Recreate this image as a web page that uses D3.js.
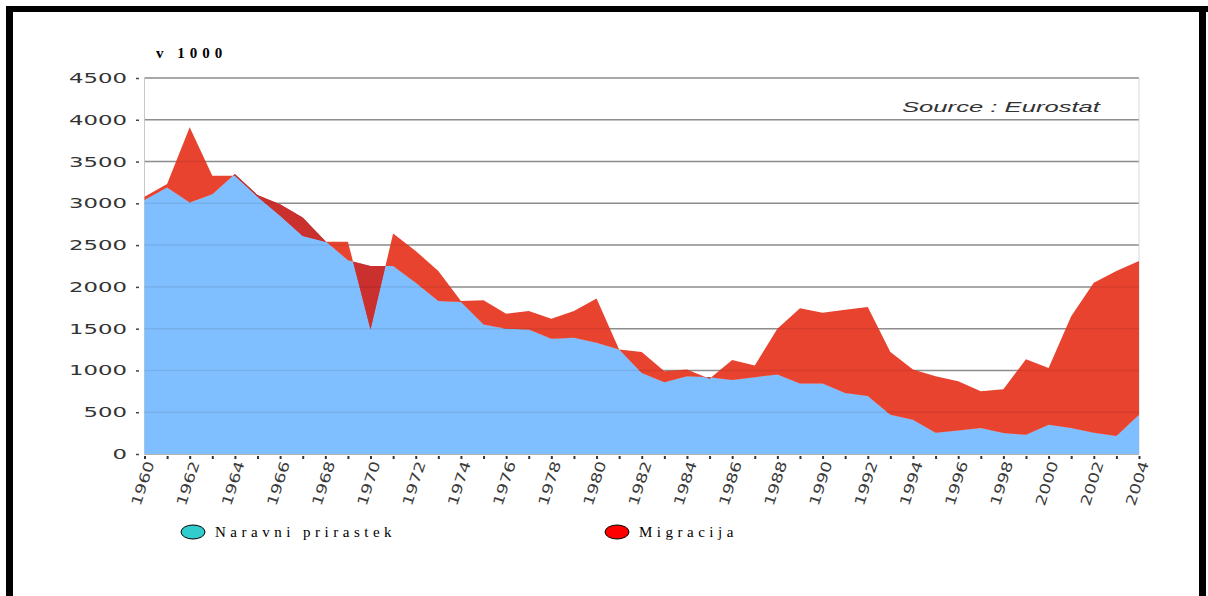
<!DOCTYPE html>
<html><head><meta charset="utf-8">
<script src="https://cdn.jsdelivr.net/npm/d3@7"></script>
<style>html,body{margin:0;padding:0;background:#fff;}svg{display:block;}</style>
</head><body>
<svg id="c" width="1208" height="596"></svg>
<script>
// ---- data (thousands) ----
const years = d3.range(1960, 2005);
const naravni = [3040,3190,3010,3110,3350,3100,2990,2830,2550,2320,
                 2250,2250,2050,1830,1820,1550,1500,1490,1380,1390,
                 1330,1250,970,860,930,920,885,920,950,845,
                 845,730,695,470,410,255,280,310,250,230,
                 350,310,255,215,470];
const migracija = [40,40,900,220,-20,-20,-140,-220,-10,220,
                   -760,390,380,360,10,290,180,220,240,320,
                   530,0,250,130,80,-20,240,140,550,900,
                   845,995,1065,750,600,675,590,440,525,905,
                   680,1340,1795,1975,1840];
const yTicks = [0,500,1000,1500,2000,2500,3000,3500,4000,4500];
const xTickYears = d3.range(1960, 2005, 2);
const seriesNames = ["Naravni prirastek", "Migracija"];
const yUnit = "v 1000";
const sourceText = "Source : Eurostat";

const data = years.map((yr,i)=>({year:yr, n:naravni[i], t:naravni[i]+migracija[i]}));

const svg = d3.select("#c");
const x = d3.scaleLinear().domain([1960,2004]).range([144.5,1139]);
const y = d3.scaleLinear().domain([0,4500]).range([454,78]);

// frame
svg.append("rect").attr("x",6).attr("y",6).attr("width",1202).attr("height",6).attr("fill","#000");
svg.append("rect").attr("x",6).attr("y",6).attr("width",7).attr("height",590).attr("fill","#000");
svg.append("rect").attr("x",1199).attr("y",6).attr("width",7).attr("height",590).attr("fill","#000");

// gridlines (under)
const grid = svg.append("g");
grid.selectAll("line").data(yTicks).join("line")
  .attr("x1",x(1960)).attr("x2",x(2004))
  .attr("y1",d=>y(d)).attr("y2",d=>y(d))
  .attr("stroke","#9a9a9a").attr("stroke-width",1.5);
svg.append("line").attr("x1",x(1960)).attr("x2",x(1960)).attr("y1",y(4500)).attr("y2",y(0))
  .attr("stroke","#c8c8c8").attr("stroke-width",1);
svg.append("line").attr("x1",x(2004)).attr("x2",x(2004)).attr("y1",y(4500)).attr("y2",y(0))
  .attr("stroke","#d8d8d8").attr("stroke-width",1);

// areas
const blueArea = d3.area().x(d=>x(d.year)).y0(y(0)).y1(d=>y(d.n));
const redArea = d3.area().x(d=>x(d.year)).y0(d=>y(d.n)).y1(d=>y(d.t));
svg.append("defs").append("clipPath").attr("id","blueclip")
  .append("path").attr("d", blueArea(data));
svg.append("path").attr("d", blueArea(data)).attr("fill","#80bfff");
svg.append("path").attr("d", redArea(data)).attr("fill","#e8432f");
svg.append("path").attr("d", redArea(data)).attr("fill","#c9302e").attr("clip-path","url(#blueclip)");

// faint gridlines over areas
svg.append("g").selectAll("line").data(yTicks.slice(1)).join("line")
  .attr("x1",x(1960)).attr("x2",x(2004))
  .attr("y1",d=>y(d)).attr("y2",d=>y(d))
  .attr("stroke","#000").attr("stroke-opacity",0.08).attr("stroke-width",1.5);

// y axis
const yAxis = d3.axisLeft(y).tickValues(yTicks).tickFormat(d3.format("d")).tickSize(3).tickPadding(9);
const gy = svg.append("g").attr("transform","translate(139,0)").call(yAxis);
gy.select(".domain").remove();
gy.selectAll(".tick line").attr("stroke","#444").attr("stroke-width",1.5);
gy.selectAll(".tick text")
  .attr("font-family","'DejaVu Sans', sans-serif").attr("font-size",14).attr("fill","#333")
  .attr("textLength",d=>String(d).length*14.5).attr("lengthAdjust","spacingAndGlyphs");

// x axis ticks (every year)
const xAxis = d3.axisBottom(x).tickValues(years).tickSize(3).tickFormat("");
const gx = svg.append("g").attr("transform","translate(0,456)").call(xAxis);
gx.select(".domain").remove();
gx.selectAll(".tick line").attr("stroke","#333").attr("stroke-width",2);

// x labels
svg.append("g").selectAll("text").data(xTickYears).join("text")
  .attr("transform",d=>`translate(${x(d)+10},463) rotate(-72)`)
  .attr("text-anchor","end")
  .attr("font-family","'DejaVu Sans', sans-serif").attr("font-size",14).attr("fill","#3a3a3a")
  .attr("textLength",46).attr("lengthAdjust","spacingAndGlyphs")
  .text(d=>d);

// unit label
svg.append("text").attr("x",156).attr("y",58).text(yUnit)
  .attr("font-family","'Liberation Serif', serif").attr("font-weight","bold")
  .attr("font-size",15).attr("letter-spacing",5).attr("fill","#000");

// source
svg.append("text").attr("x",902).attr("y",112).text(sourceText)
  .attr("font-family","'Liberation Sans', sans-serif").attr("font-style","italic")
  .attr("font-size",15).attr("fill","#333")
  .attr("textLength",198).attr("lengthAdjust","spacingAndGlyphs");

// legend
const legX = [193, 617];
const legCol = ["#33cccc", "#ff0000"];
const leg = svg.append("g").selectAll("g").data(seriesNames).join("g")
  .attr("transform",(d,i)=>`translate(${legX[i]},532)`);
leg.append("ellipse").attr("rx",12).attr("ry",7).attr("fill",(d,i)=>legCol[i])
  .attr("stroke","#000").attr("stroke-width",1);
leg.append("text").attr("x",22).attr("y",5).text(d=>d)
  .attr("font-family","'Liberation Serif', serif").attr("font-size",15)
  .attr("letter-spacing",4.5).attr("fill","#000");
</script>
</body></html>
